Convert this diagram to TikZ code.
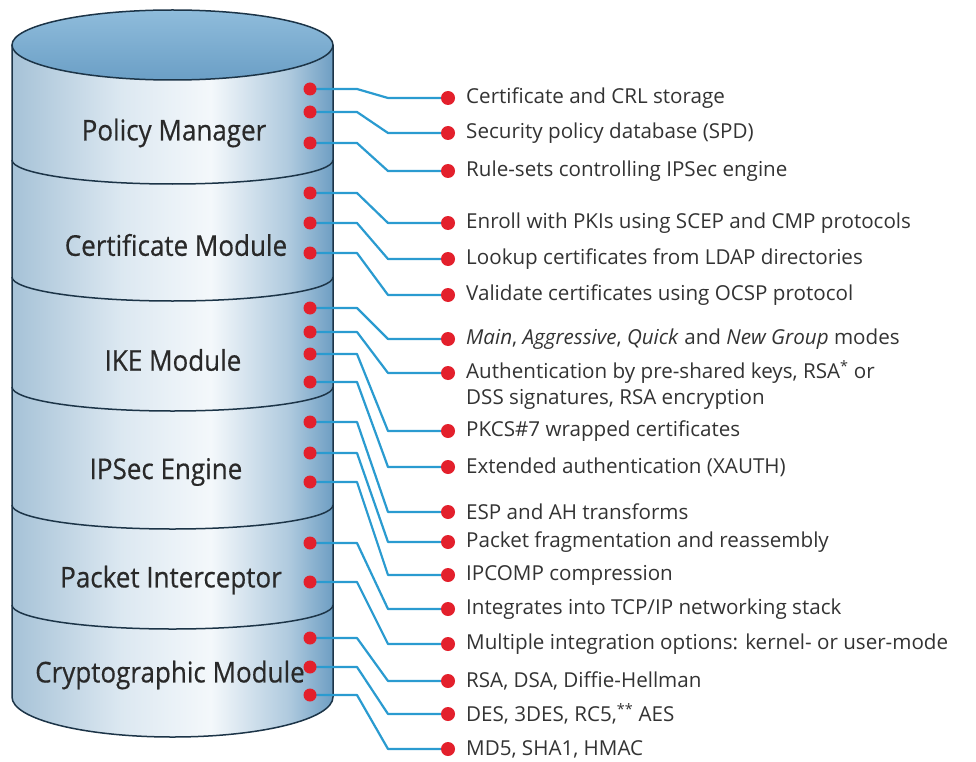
\documentclass[tikz,border=0pt]{standalone}
\usepackage{fontspec}
\setmainfont{Open Sans}
\newfontfamily\layerfont[FakeBold=0.5]{Open Sans}
\usetikzlibrary{calc}

\definecolor{rimdark}{HTML}{1C3447}
\definecolor{sideL}{HTML}{A6C2D7}
\definecolor{sideM}{HTML}{DCE8F1}
\definecolor{sideHi}{HTML}{F4F8FB}
\definecolor{sideR}{HTML}{6E9EC3}
\definecolor{lidtop}{HTML}{8FBCDB}
\definecolor{lidbot}{HTML}{6B9FC6}
\definecolor{dotred}{HTML}{E3202C}
\definecolor{wireblue}{HTML}{2A9BD0}
\definecolor{txtgray}{HTML}{333333}

% left-to-right shading of the cylinder wall
\pgfdeclarehorizontalshading{cylside}{100bp}{color(0bp)=(sideL); color(25bp)=(sideL);
  color(42bp)=(sideM); color(56bp)=(sideHi); color(68bp)=(sideM!60!sideR); color(75bp)=(sideR); color(100bp)=(sideR)}

\tikzset{
  rim/.style={draw=rimdark, line width=1.5pt},
  layerlabel/.style={font=\layerfont\fontsize{26}{30}\selectfont, text=txtgray!80!black, inner sep=0pt,
    yscale=1.1, transform shape},
  reddot/.style={circle, fill=dotred, inner sep=0pt, minimum size=13pt},
  wire/.style={draw=wireblue, line width=2.2pt, line join=round},
  feature/.style={anchor=west, font=\fontsize{20.6}{25.5}\selectfont, text=txtgray, inner sep=0pt, align=left},
}

\begin{document}
\begin{tikzpicture}[x=1pt, y=-1pt]
\useasboundingbox[fill=white] (0,0) rectangle (976,762);

% cylinder wall (y axis points down, so the lower half of an ellipse runs through 90 degrees)
\path[shading=cylside] (12,45) -- (12,697) arc[start angle=180, end angle=0, x radius=160.5, y radius=40] -- (333,45) -- cycle;
\draw[rim] (12,45) -- (12,697) arc[start angle=180, end angle=0, x radius=160.5, y radius=40] -- (333,45);

% layer boundaries
\foreach \yy in {160,277,387,505,605}
  \draw[rim] (12,\yy) arc[start angle=180, end angle=0, x radius=160.5, y radius=24];

% lid
\draw[rim, top color=lidtop, bottom color=lidbot] (172.5,45) ellipse[x radius=160.5, y radius=35];

% layer names
\node[layerlabel] (pm)  at (174,133) {Policy Manager};
\node[layerlabel] (cm)  at (176,245) {Certificate Module};
\node[layerlabel] (ike) at (173,360) {IKE Module};
\node[layerlabel] (ips) at (166,472) {IPSec Engine};
\node[layerlabel] (pi)  at (171,580) {Packet Interceptor};
\node[layerlabel] (cry) at (170,675) {Cryptographic Module};

% bend columns of the connectors
\coordinate (bendA) at (357,0);
\coordinate (bendB) at (388,0);

% dots on the cylinder and at the feature list
\foreach \i/\yl/\yr in {1/89/98, 2/112/133, 3/143/171, 4/193/223, 5/223/259, 6/253/295,
    7/308/339, 8/332/373, 9/354/431, 10/382/467, 11/422/512, 12/453/542, 13/482/575,
    14/543/609, 15/582/644, 16/638/681, 17/667/714, 18/695/749} {
  \coordinate (L\i) at (310,\yl);
  \coordinate (R\i) at (448,\yr);
}
\foreach \i in {1,...,18}
  \draw[wire] (L\i) -- (L\i -| bendA) -- (R\i -| bendB) -- (R\i);
\foreach \i in {1,...,18} {
  \node[reddot] (dl\i) at (L\i) {};
  \node[reddot, minimum size=14pt] (dr\i) at (R\i) {};
}

% feature list
\node[feature] (t1)  at (466,98)  {Certificate and CRL storage};
\node[feature] (t2)  at (466,133) {Security policy database (SPD)};
\node[feature] (t3)  at (466,171) {Rule-sets controlling IPSec engine};
\node[feature] (t4)  at (466,223) {Enroll with PKIs using SCEP and CMP protocols};
\node[feature] (t5)  at (466,259) {Lookup certificates from LDAP directories};
\node[feature] (t6)  at (466,295) {Validate certificates using OCSP protocol};
\node[feature] (t7)  at (466,339) {\textit{Main}, \textit{Aggressive}, \textit{Quick} and \textit{New Group} modes};
\node[feature, anchor=north west] (t8) at (466,360) {Authentication by pre-shared keys, RSA\textsuperscript{*} or\\DSS signatures, RSA encryption};
\node[feature] (t9)  at (466,431) {PKCS\#7 wrapped certificates};
\node[feature] (t10) at (466,467) {Extended authentication (XAUTH)};
\node[feature] (t11) at (466,512) {ESP and AH transforms};
\node[feature] (t12) at (466,542) {Packet fragmentation and reassembly};
\node[feature] (t13) at (466,575) {IPCOMP compression};
\node[feature] (t14) at (466,609) {Integrates into TCP/IP networking stack};
\node[feature] (t15) at (466,644) {Multiple integration options: kernel- or user-mode};
\node[feature] (t16) at (466,681) {RSA, DSA, Diffie-Hellman};
\node[feature] (t17) at (466,714) {DES, 3DES, RC5,\textsuperscript{**} AES};
\node[feature] (t18) at (466,749) {MD5, SHA1, HMAC};
\end{tikzpicture}
\end{document}
